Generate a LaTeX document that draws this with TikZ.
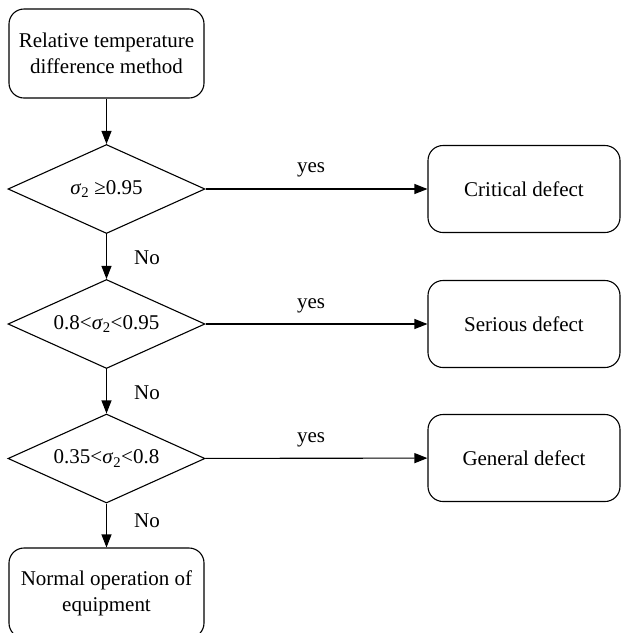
\documentclass[tikz,border=0pt]{standalone}
\usepackage{fontspec}
\setmainfont{Liberation Serif}
\usetikzlibrary{shapes.geometric,arrows.meta}
\tikzset{
  rbox/.style={draw, rounded corners=15pt, line width=1.1pt, minimum width=195pt, minimum height=89pt, align=center, font=\fontsize{21}{26}\selectfont, inner sep=0pt},
  dbox/.style={draw, diamond, aspect=2.21, line width=1.1pt, minimum width=197pt, minimum height=89pt, inner sep=0pt, font=\fontsize{21}{24}\selectfont},
  lbl/.style={font=\fontsize{21}{24}\selectfont, inner sep=0pt},
  arr/.style={line width=1.1pt, -{Triangle[length=13pt,width=10pt]}}
}
\begin{document}
\begin{tikzpicture}[x=1pt,y=-1pt]
\useasboundingbox (0,0) rectangle (621,633);
\node[rbox] (start) at (106.5,53.5) {Relative temperature\\difference method};
\node[dbox] (d1) at (106.5,189) {\textit{σ}\textsubscript{2} ≥0.95};
\node[dbox] (d2) at (106.5,324) {0.8<\textit{σ}\textsubscript{2}<0.95};
\node[dbox] (d3) at (106.5,458.5) {0.35<\textit{σ}\textsubscript{2}<0.8};
\node[rbox, minimum width=192pt, minimum height=87pt] (r1) at (524,189) {Critical defect};
\node[rbox, minimum width=192pt, minimum height=87pt] (r2) at (524,324) {Serious defect};
\node[rbox, minimum width=192pt, minimum height=87pt] (r3) at (524,458) {General defect};
\node[rbox, minimum height=90pt] (end) at (106.5,593) {Normal operation of\\equipment};
\draw[arr] (start) -- (d1);
\draw[arr] (d1) -- (d2);
\draw[arr] (d2) -- (d3);
\draw[arr] (d3) -- (end);
\draw[arr] (d1) -- (r1);
\draw[arr] (d2) -- (r2);
\draw[arr] (d3) -- (r3);
\node[lbl, anchor=base] (y1) at (311,172) {yes};
\node[lbl, anchor=base] (y2) at (311,308) {yes};
\node[lbl, anchor=base] (y3) at (311,442) {yes};
\node[lbl] (n1) at (147,258) {No};
\node[lbl] (n2) at (147,393) {No};
\node[lbl] (n3) at (147,521) {No};
\end{tikzpicture}
\end{document}
